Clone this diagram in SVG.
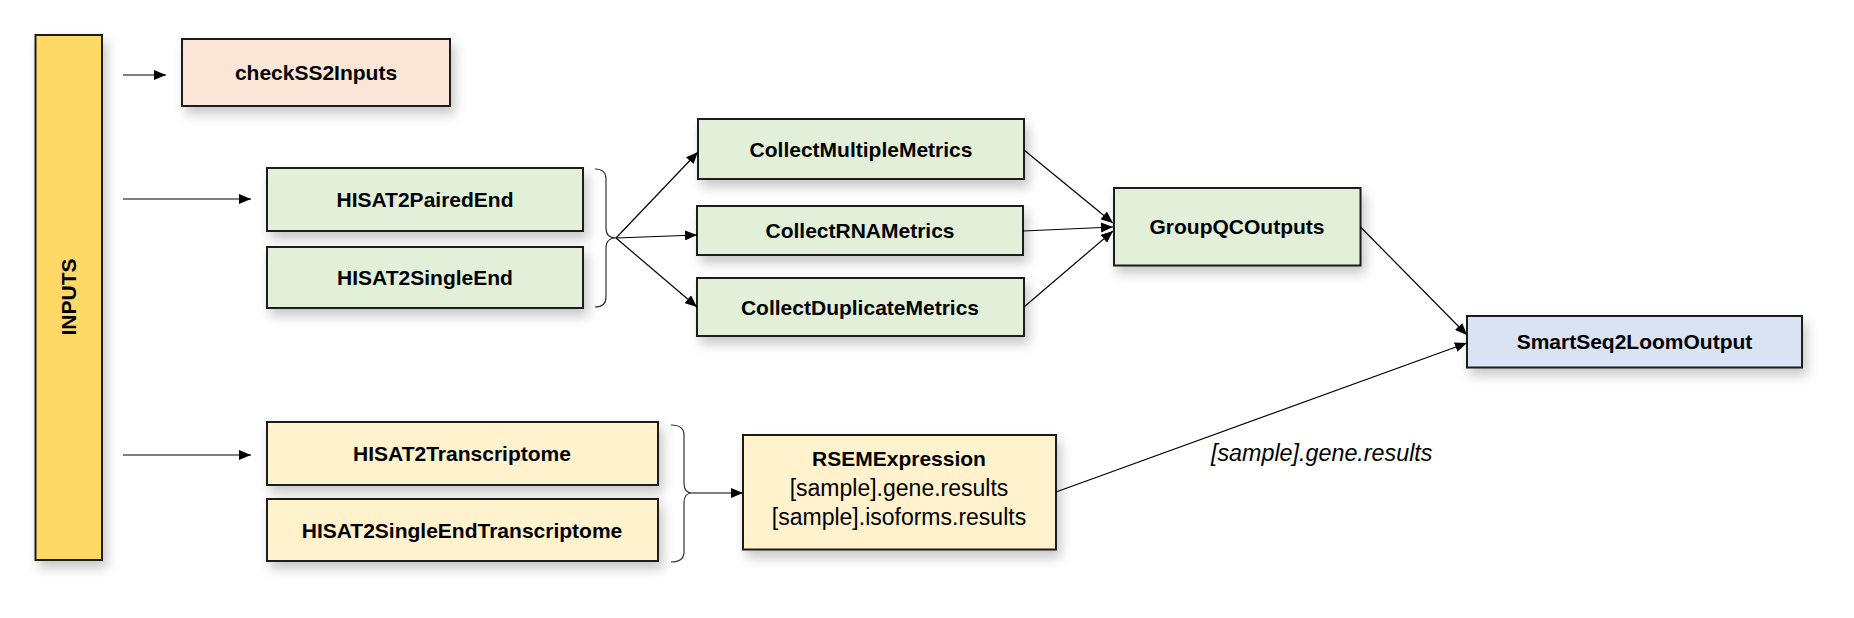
<svg xmlns="http://www.w3.org/2000/svg" width="1854" height="618" viewBox="0 0 1854 618">
<defs>
<filter id="sh" x="-20%" y="-30%" width="150%" height="180%">
<feDropShadow dx="4" dy="7" stdDeviation="6" flood-color="#000" flood-opacity="0.22"/>
</filter>
<marker id="ah" markerUnits="userSpaceOnUse" markerWidth="12" markerHeight="10" refX="12" refY="5" orient="auto">
<path d="M0,0 L12,5 L0,10 z" fill="#000"/>
</marker>
</defs>
<style>
.box{stroke:#1a1a1a;stroke-width:2;filter:url(#sh)}
.t{font-family:"Liberation Sans",Arial,sans-serif;font-weight:bold;font-size:21px;fill:#000;text-anchor:middle}
.r{font-family:"Liberation Sans",Arial,sans-serif;font-size:23px;fill:#000;text-anchor:middle}
.c{fill:none;stroke:#000;stroke-width:1.2}
.a{marker-end:url(#ah)}
.br{fill:none;stroke:#333;stroke-width:1.2}
.y{fill:#FFD966}.p{fill:#FBE5D6}.g{fill:#E2F0D9}.l{fill:#FFF2CC}.b{fill:#DAE3F3}
</style>
<rect width="1854" height="618" fill="#fff"/>
<g id="inputs">
<rect class="box y" x="35.5" y="35" width="66.5" height="525"/>
<text class="t" transform="translate(76,297) rotate(-90)">INPUTS</text>
</g>
<g id="checkSS2Inputs">
<rect class="box p" x="182" y="39" width="268" height="67"/>
<text class="t" x="316" y="80">checkSS2Inputs</text>
</g>
<g id="HISAT2PairedEnd">
<rect class="box g" x="267" y="168" width="316" height="63"/>
<text class="t" x="425" y="207">HISAT2PairedEnd</text>
</g>
<g id="HISAT2SingleEnd">
<rect class="box g" x="267" y="247" width="316" height="61"/>
<text class="t" x="425" y="285">HISAT2SingleEnd</text>
</g>
<g id="HISAT2Transcriptome">
<rect class="box l" x="267" y="422" width="391" height="63"/>
<text class="t" x="462" y="461">HISAT2Transcriptome</text>
</g>
<g id="HISAT2SingleEndTranscriptome">
<rect class="box l" x="267" y="499" width="391" height="62"/>
<text class="t" x="462" y="538">HISAT2SingleEndTranscriptome</text>
</g>
<g id="CollectMultipleMetrics">
<rect class="box g" x="698" y="119" width="326" height="60"/>
<text class="t" x="861" y="157">CollectMultipleMetrics</text>
</g>
<g id="CollectRNAMetrics">
<rect class="box g" x="697" y="206" width="326" height="49"/>
<text class="t" x="860" y="238">CollectRNAMetrics</text>
</g>
<g id="CollectDuplicateMetrics">
<rect class="box g" x="697" y="278" width="327" height="58"/>
<text class="t" x="860" y="315">CollectDuplicateMetrics</text>
</g>
<g id="GroupQCOutputs">
<rect class="box g" x="1114" y="188" width="246.5" height="77.5"/>
<text class="t" x="1237" y="234">GroupQCOutputs</text>
</g>
<g id="SmartSeq2LoomOutput">
<rect class="box b" x="1467" y="316" width="335" height="51.5"/>
<text class="t" x="1634.5" y="349">SmartSeq2LoomOutput</text>
</g>
<g id="RSEMExpression">
<rect class="box l" x="743" y="435" width="313" height="114.5"/>
<text class="t" x="899" y="466">RSEMExpression</text>
<text class="r" x="899" y="496">[sample].gene.results</text>
<text class="r" x="899" y="525">[sample].isoforms.results</text>
</g>
<g id="connectors">
<path class="br" d="M595,169 Q606,169 606,179 L606,228 Q606,238 616,238 Q606,238 606,248 L606,297 Q606,307 595,307"/>
<path class="br" d="M671,425 Q684,425 684,435 L684,483 Q684,493 692,493 Q684,493 684,503 L684,552 Q684,562 671,562"/>
<line class="c a" x1="123" y1="75" x2="166" y2="75"/>
<line class="c a" x1="123" y1="199" x2="251" y2="199"/>
<line class="c a" x1="123" y1="455" x2="251" y2="455"/>
<line class="c a" x1="616" y1="238" x2="698" y2="152"/>
<line class="c a" x1="616" y1="238" x2="697" y2="235"/>
<line class="c a" x1="616" y1="238" x2="697" y2="307"/>
<line class="c a" x1="692" y1="493" x2="743" y2="493"/>
<line class="c a" x1="1024" y1="150" x2="1113" y2="223"/>
<line class="c a" x1="1023" y1="231" x2="1113" y2="227"/>
<line class="c a" x1="1024" y1="307" x2="1113" y2="231"/>
<line class="c a" x1="1360.5" y1="227" x2="1467" y2="335"/>
<line class="c a" x1="1056" y1="492" x2="1467" y2="343"/>
<text x="1211" y="461" font-family="Liberation Sans, Arial, sans-serif" font-style="italic" font-size="23.3" fill="#000">[sample].gene.results</text>
</g>
</svg>
